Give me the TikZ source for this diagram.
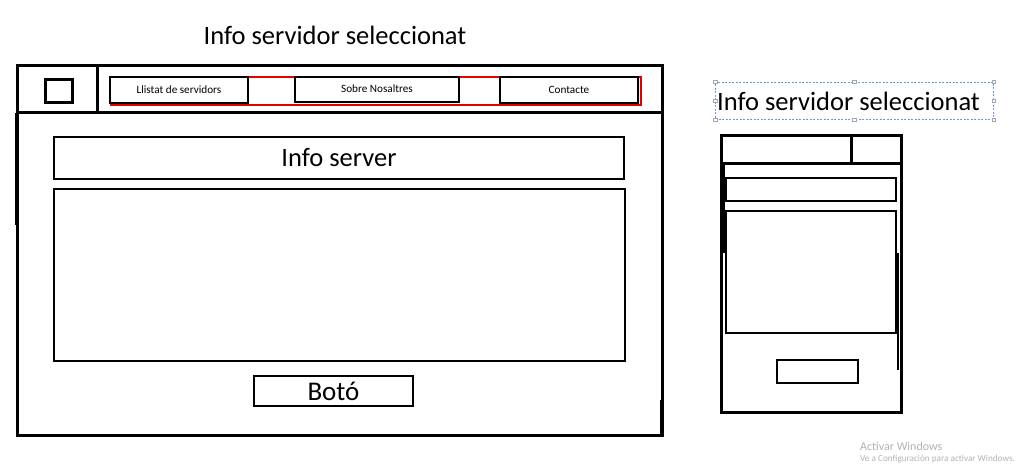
\documentclass[tikz,border=0pt]{standalone}
\usepackage{fontspec}
\setmainfont{Carlito}
\begin{document}
\begin{tikzpicture}[x=1pt,y=-1pt,
  frame/.style={draw=black, line width=3pt, anchor=north west, inner sep=0pt, outer sep=0pt, fill=white},
  thin frame/.style={draw=black, line width=2.5pt, anchor=north west, inner sep=0pt, outer sep=0pt, fill=white},
  navbtn/.style={draw=black, line width=2.5pt, anchor=north west, inner sep=0pt, outer sep=0pt, fill=white, font=\fontsize{11.2}{13}\selectfont},
  title/.style={font=\fontsize{26.5}{30}\selectfont, inner sep=0pt},
  handle/.style={draw=gray!70, fill=white, line width=0.5pt, minimum size=3.5pt, inner sep=0pt},
  wm/.style={text=black!30, inner sep=0pt, anchor=west}
]
\useasboundingbox (0,0) rectangle (1026,465);

% ---------- Desktop mockup ----------
\node[title] (t1) at (335,35) {Info servidor seleccionat};

\node[frame, minimum width=645pt, minimum height=322pt] (body) at (17,113) {};
\node[frame, minimum width=645pt, minimum height=47pt] (nav) at (17,66) {};
\node[frame, fill=none, minimum width=80pt, minimum height=47pt] (logo cell) at (17,66) {};
\node[frame, minimum width=27pt, minimum height=23pt] (logo) at (45,80) {};
\coordinate (ltop) at (16,113);
\coordinate (lbot) at (16,225);
\draw[line width=3pt] (ltop) -- (lbot);
\coordinate (rtop) at (661,400);
\coordinate (rbot) at (661,435);
\draw[line width=3pt] (rtop) -- (rbot);

\node[draw=red!90!black, line width=2pt, anchor=north west, inner sep=0pt, minimum width=530pt, minimum height=28pt] (menu) at (110,76) {};
\node[navbtn, minimum width=138pt, minimum height=26pt] (b1) at (110,77) {Llistat de servidors};
\node[navbtn, minimum width=164pt, minimum height=25pt] (b2) at (295,77) {\raisebox{1.5pt}{Sobre Nosaltres}};
\node[navbtn, minimum width=138pt, minimum height=26pt] (b3) at (500,77) {Contacte};

\node[thin frame, minimum width=570pt, minimum height=42pt, font=\fontsize{26.5}{30}\selectfont] (infoserver) at (54,137) {Info server};
\node[thin frame, minimum width=571pt, minimum height=172pt] (content) at (54,189) {};
\node[thin frame, minimum width=159pt, minimum height=30pt, font=\fontsize{27}{30}\selectfont] (boto) at (254,376) {Botó};

% ---------- Mobile mockup ----------
\node[draw=cyan!50!blue!60, dash pattern=on 2pt off 1.5pt, line width=0.6pt, anchor=north west, inner sep=0pt, minimum width=278pt, minimum height=37pt] (sel) at (715,82) {};
\node[title, anchor=west] (t2) at (717,101) {Info servidor seleccionat};
\foreach \p/\n in {north west/h1, north/h2, north east/h3, west/h4, east/h5, south west/h6, south/h7, south east/h8}
  \node[handle] (\n) at (sel.\p) {};

\node[frame, minimum width=180pt, minimum height=276pt] (phone) at (721,136) {};
\node[frame, fill=none, minimum width=180pt, minimum height=28pt] (phonebar) at (721,136) {};
\coordinate (pdtop) at (851,136);
\coordinate (pdbot) at (851,164);
\draw[line width=3pt] (pdtop) -- (pdbot);
\coordinate (pl1) at (723,165);
\coordinate (pl2) at (723,253);
\draw[line width=3pt] (pl1) -- (pl2);
\coordinate (pr1) at (898,253);
\coordinate (pr2) at (898,370);
\draw[line width=1.5pt] (pr1) -- (pr2);
\node[thin frame, minimum width=170pt, minimum height=23pt] (pinfo) at (726,178) {};
\node[thin frame, minimum width=170pt, minimum height=122pt] (pcontent) at (726,211) {};
\node[thin frame, minimum width=81pt, minimum height=23pt] (pboto) at (777,360) {};

% ---------- watermark ----------
\node[wm, font=\fontsize{12}{14}\selectfont] (wm1) at (860,446) {Activar Windows};
\node[wm, font=\fontsize{9.2}{11}\selectfont] (wm2) at (860,459) {Ve a Configuración para activar Windows.};
\end{tikzpicture}
\end{document}
